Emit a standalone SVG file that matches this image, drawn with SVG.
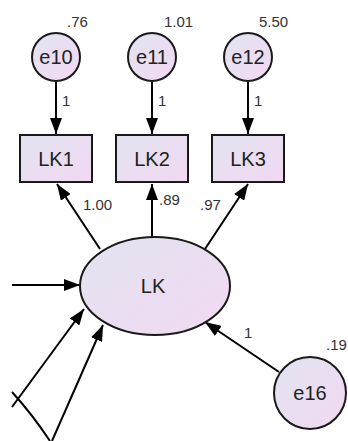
<svg xmlns="http://www.w3.org/2000/svg" width="348" height="441" viewBox="0 0 348 441">
<defs>
<linearGradient id="g" x1="0" y1="0" x2="1" y2="1">
<stop offset="0" stop-color="#e2e4f0"/>
<stop offset="1" stop-color="#f2d8f2"/>
</linearGradient>
<marker id="ah" viewBox="0 0 16 12" refX="16" refY="6" markerWidth="16" markerHeight="12" markerUnits="userSpaceOnUse" orient="auto">
<path d="M0,0 L16,6 L0,12 Z" fill="#000"/>
</marker>
</defs>
<style>
.n{fill:url(#g);stroke:#1a1a1a;stroke-width:2}
.t{font-family:"Liberation Sans",Arial,sans-serif;font-size:20px;fill:#222;text-anchor:middle}
.l{font-family:"Liberation Sans",Arial,sans-serif;font-size:15px;fill:#333}
.e{stroke:#000;stroke-width:2;fill:none}
.a{marker-end:url(#ah)}
</style>
<rect width="348" height="441" fill="#fff"/>
<g id="connectors">
<line class="e a" x1="56" y1="82" x2="56" y2="134"/>
<line class="e a" x1="152" y1="82" x2="152" y2="134"/>
<line class="e a" x1="248" y1="82" x2="248" y2="134"/>
<line class="e a" x1="100" y1="249" x2="57" y2="184"/>
<line class="e a" x1="152" y1="237" x2="152" y2="184"/>
<line class="e a" x1="205" y1="249" x2="248" y2="184"/>
<line class="e a" x1="12" y1="285" x2="80" y2="285"/>
<line class="e a" x1="12" y1="407" x2="84" y2="309"/>
<line class="e a" x1="52" y1="441" x2="103" y2="325"/>
<path class="e" d="M12,392 Q32,414 50,441"/>
<line class="e a" x1="279" y1="372" x2="205" y2="322"/>
<text class="l" x="62" y="106">1</text>
<text class="l" x="158" y="106">1</text>
<text class="l" x="254" y="106">1</text>
<text class="l" x="83" y="210">1.00</text>
<text class="l" x="159" y="205">.89</text>
<text class="l" x="200" y="210">.97</text>
<text class="l" x="244" y="338">1</text>
</g>
<g id="e10"><circle class="n" cx="56" cy="57" r="24"/><text class="t" x="56" y="64">e10</text><text class="l" x="67" y="27">.76</text></g>
<g id="e11"><circle class="n" cx="152" cy="57" r="24"/><text class="t" x="152" y="64">e11</text><text class="l" x="164" y="27">1.01</text></g>
<g id="e12"><circle class="n" cx="248" cy="57" r="24"/><text class="t" x="248" y="64">e12</text><text class="l" x="259" y="27">5.50</text></g>
<g id="LK1"><rect class="n" x="20" y="135" width="72" height="47"/><text class="t" x="56" y="166">LK1</text></g>
<g id="LK2"><rect class="n" x="116" y="135" width="72" height="47"/><text class="t" x="152" y="166">LK2</text></g>
<g id="LK3"><rect class="n" x="212" y="135" width="72" height="47"/><text class="t" x="248" y="166">LK3</text></g>
<g id="LK"><ellipse class="n" cx="155" cy="286" rx="75" ry="49"/><text class="t" x="153" y="293">LK</text></g>
<g id="e16"><circle class="n" cx="310" cy="393" r="36"/><text class="t" x="310" y="400">e16</text><text class="l" x="326" y="350">.19</text></g>
</svg>
